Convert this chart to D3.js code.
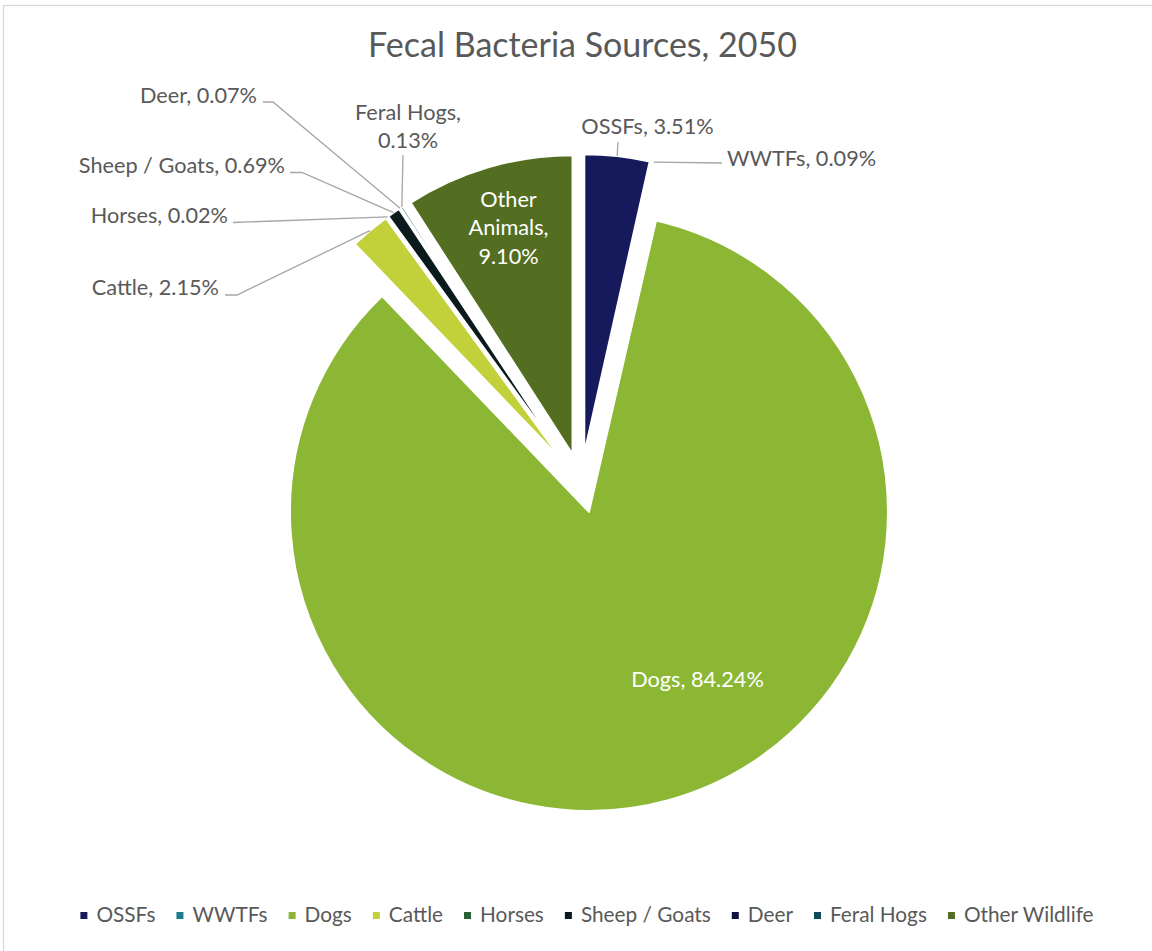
<!DOCTYPE html>
<html>
<head>
<meta charset="utf-8">
<script src="https://cdn.jsdelivr.net/npm/d3@7"></script>
<style>
  html, body { margin: 0; padding: 0; background: #fff; }
  svg { display: block; font-family: Lato, "Open Sans", sans-serif; }
</style>
</head>
<body>
<svg id="chart" width="1152" height="951"></svg>
<script>
// Fecal bacteria source shares (%) projected for 2050
const categories = ["OSSFs", "WWTFs", "Dogs", "Cattle", "Horses", "Sheep / Goats", "Deer", "Feral Hogs", "Other Wildlife"];
const shares = [3.51, 0.09, 84.24, 2.15, 0.02, 0.69, 0.07, 0.13, 9.10];
const labelNames = ["OSSFs", "WWTFs", "Dogs", "Cattle", "Horses", "Sheep / Goats", "Deer", "Feral Hogs", "Other Animals"];
const colors = ["#161a5c", "#1c7b8c", "#8bb734", "#c2d03a", "#2b5f34", "#0b1a1c", "#111240", "#0e4a5a", "#536e20"];

const W = 1152, H = 951;
const svg = d3.select("#chart");
const textColor = "#595959";
const lineColor = "#a6a6a6";

// chart frame
svg.append("rect")
  .attr("x", 3.5).attr("y", 5.5)
  .attr("width", W + 10).attr("height", H + 10)
  .attr("fill", "#fff").attr("stroke", "#d9d9d9").attr("stroke-width", 1.3);

// title
svg.append("text")
  .attr("x", 582.5).attr("y", 57)
  .attr("text-anchor", "middle")
  .attr("fill", textColor)
  .style("font-size", "34px")
  .text("Fecal Bacteria Sources, 2050");

// pie geometry
const cx = 581, cy = 483, radius = 299, explode = 30;
const data = categories.map((c, i) => ({ category: c, label: labelNames[i], value: shares[i], color: colors[i] }));
const pie = d3.pie().sort(null).value(d => d.value);
const arcs = pie(data);
const arc = d3.arc().innerRadius(0).outerRadius(radius);
const rim = d3.arc().innerRadius(radius).outerRadius(radius);

const mid = d => (d.startAngle + d.endAngle) / 2;
const offset = d => [explode * Math.sin(mid(d)), -explode * Math.cos(mid(d))];

const g = svg.append("g").attr("transform", `translate(${cx},${cy})`);
g.selectAll("path.slice")
  .data(arcs)
  .join("path")
  .attr("class", "slice")
  .attr("transform", d => `translate(${offset(d)[0]},${offset(d)[1]})`)
  .attr("d", arc)
  .attr("fill", d => d.data.color)
  .attr("stroke", "#ffffff")
  .attr("stroke-width", 2)
  .attr("stroke-linejoin", "round");

// label layout: outside labels with leader lines, inside labels in white
const fmt = v => v.toFixed(2) + "%";
const outside = {
  "OSSFs":        { x: 647.5, y: 134, anchor: "middle", lines: null, lead: [[618, 142]] },
  "WWTFs":        { x: 727, y: 166, anchor: "start", lines: null, lead: [[722, 163]] },
  "Deer":         { x: 257, y: 102.5, anchor: "end", lines: null, lead: [[263, 102], [273, 102]] },
  "Sheep / Goats":{ x: 285, y: 172.5, anchor: "end", lines: null, lead: [[290, 172.5], [302, 172.5]] },
  "Horses":       { x: 228, y: 222.5, anchor: "end", lines: null, lead: [[233, 222.5]] },
  "Cattle":       { x: 219, y: 295, anchor: "end", lines: null, lead: [[225, 295], [237, 295]] },
  "Feral Hogs":   { x: 408, y: 120, anchor: "middle", lines: 2, lead: [[403, 155]] }
};
const inside = {
  "Dogs":           { x: 697.5, y: 687, lines: 1 },
  "Other Wildlife": { x: 508.5, y: 207, lines: 3 }
};

const labelLayer = svg.append("g").style("font-size", "21.7px");

arcs.forEach(d => {
  const name = d.data.category;
  const text = `${d.data.label}, ${fmt(d.data.value)}`;
  if (outside[name]) {
    const L = outside[name];
    const [ox, oy] = offset(d);
    const [rx, ry] = rim.centroid(d);
    const pts = L.lead.concat([[cx + ox + rx, cy + oy + ry]]);
    labelLayer.append("path")
      .attr("d", d3.line()(pts))
      .attr("fill", "none")
      .attr("stroke", lineColor)
      .attr("stroke-width", 1.3);
    const t = labelLayer.append("text")
      .attr("x", L.x).attr("y", L.y)
      .attr("text-anchor", L.anchor)
      .attr("fill", textColor);
    if (L.lines === 2) {
      t.append("tspan").attr("x", L.x).attr("dy", 0).text(`${d.data.label},`);
      t.append("tspan").attr("x", L.x).attr("dy", 28).text(fmt(d.data.value));
    } else {
      t.text(text);
    }
  } else if (inside[name]) {
    const L = inside[name];
    const t = labelLayer.append("text")
      .attr("x", L.x).attr("y", L.y)
      .attr("text-anchor", "middle")
      .attr("fill", "#ffffff");
    if (L.lines === 3) {
      const words = d.data.label.split(" ");
      [words[0], words[1] + ",", fmt(d.data.value)].forEach((s, i) => {
        t.append("tspan").attr("x", L.x).attr("dy", i === 0 ? 0 : 28.3).text(s);
      });
    } else {
      t.text(text);
    }
  }
});

// legend
const legend = svg.append("g").style("font-size", "20.8px");
const items = legend.selectAll("g.item").data(data).join("g").attr("class", "item");
items.append("rect").attr("width", 7).attr("height", 7).attr("y", -10).attr("fill", d => d.color);
items.append("text").attr("x", 16).attr("y", 0).attr("fill", textColor).text(d => d.category);
const gap = 21;
let lx = 0;
items.each(function () {
  const el = d3.select(this);
  el.attr("transform", `translate(${lx},0)`);
  lx += 16 + el.select("text").node().getComputedTextLength() + gap;
});
lx -= gap;
legend.attr("transform", `translate(${587 - lx / 2},922)`);
</script>
</body>
</html>
